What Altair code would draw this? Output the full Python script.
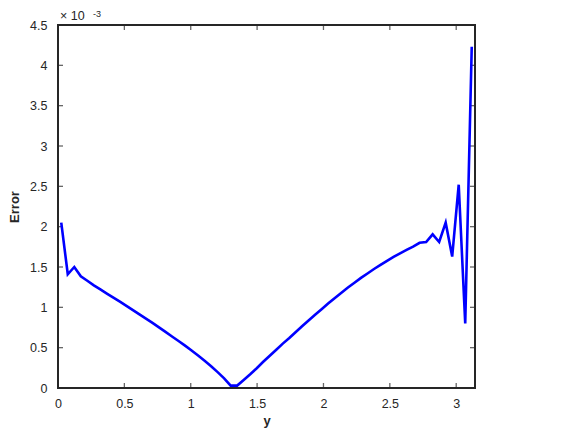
import altair as alt
import pandas as pd
import numpy as np

# x positions: 64 midpoints on [0, pi]
x_vals = [(k - 0.5) * np.pi / 64 for k in range(1, 65)]
# Error values (in units of 1e-3)
err_vals = [
    2.05, 1.41, 1.50, 1.385, 1.33, 1.272, 1.222, 1.171, 1.121, 1.070,
    1.018, 0.965, 0.912, 0.860, 0.807, 0.752, 0.696, 0.639, 0.583, 0.525,
    0.465, 0.402, 0.337, 0.270, 0.197, 0.12, 0.03, 0.03, 0.10, 0.17,
    0.245, 0.325, 0.40, 0.475, 0.55, 0.62, 0.695, 0.768, 0.84, 0.91,
    0.98, 1.05, 1.117, 1.182, 1.245, 1.305, 1.365, 1.42, 1.475, 1.527,
    1.577, 1.625, 1.67, 1.712, 1.752, 1.80, 1.81, 1.905, 1.81, 2.05,
    1.63, 2.52, 0.80, 4.23,
]
x_ticks = [0, 0.5, 1, 1.5, 2, 2.5, 3]
y_ticks = [0, 0.5, 1, 1.5, 2, 2.5, 3, 3.5, 4, 4.5]
x_domain = [0, float(np.pi)]
y_domain = [0, 4.5]

FONT = "Liberation Sans"
AX = "#262626"

df = pd.DataFrame({"y": x_vals, "err": err_vals})
xt = pd.DataFrame({"t": x_ticks})
yt = pd.DataFrame({"t": y_ticks})

xscale = alt.Scale(domain=x_domain, nice=False, zero=False)
yscale = alt.Scale(domain=y_domain, nice=False)

line = alt.Chart(df).mark_line(color="#0000FF", strokeWidth=2.6, clip=True).encode(
    x=alt.X("y:Q", scale=xscale, title="y",
            axis=alt.Axis(values=x_ticks, ticks=False, domain=False, grid=False,
                          labelFlush=False, labelPadding=9, titlePadding=5, format="~g")),
    y=alt.Y("err:Q", scale=yscale, title="Error",
            axis=alt.Axis(values=y_ticks, ticks=False, domain=False, grid=False,
                          labelFlush=False, labelPadding=11, titlePadding=8, format="~g")),
)

tick_kw = dict(color=AX, size=10, thickness=1.3, clip=True)
xt_bottom = alt.Chart(xt).mark_tick(orient="vertical", **tick_kw).encode(
    x=alt.X("t:Q", scale=xscale), y=alt.datum(y_domain[0]))
xt_top = alt.Chart(xt).mark_tick(orient="vertical", **tick_kw).encode(
    x=alt.X("t:Q", scale=xscale), y=alt.datum(y_domain[1]))
yt_left = alt.Chart(yt).mark_tick(orient="horizontal", **tick_kw).encode(
    y=alt.Y("t:Q", scale=yscale), x=alt.datum(x_domain[0]))
yt_right = alt.Chart(yt).mark_tick(orient="horizontal", **tick_kw).encode(
    y=alt.Y("t:Q", scale=yscale), x=alt.datum(x_domain[1]))

exp_base = alt.Chart(pd.DataFrame({"a": [0]})).mark_text(
    text="× 10", align="left", baseline="alphabetic", dx=2, dy=-5,
    font=FONT, fontSize=12.5, color=AX).encode(
    x=alt.datum(x_domain[0]), y=alt.datum(y_domain[1]))
exp_pow = alt.Chart(pd.DataFrame({"a": [0]})).mark_text(
    text="-3", align="left", baseline="alphabetic", dx=35, dy=-8,
    font=FONT, fontSize=9, color=AX).encode(
    x=alt.datum(x_domain[0]), y=alt.datum(y_domain[1]))

chart = alt.layer(xt_bottom, xt_top, yt_left, yt_right, line, exp_base, exp_pow).properties(
    width=417, height=363,
    autosize=alt.AutoSizeParams(type="none"),
    padding={"left": 50, "top": 17, "right": 20, "bottom": 42},
    background="white",
).configure_view(
    stroke=AX, strokeWidth=2
).configure_axis(
    labelFont=FONT, labelFontSize=12.5, labelColor=AX,
    titleFont=FONT, titleFontSize=13, titleFontWeight="bold", titleColor=AX,
)

chart.save("out.html", embed_options={"renderer": "svg", "actions": False})
